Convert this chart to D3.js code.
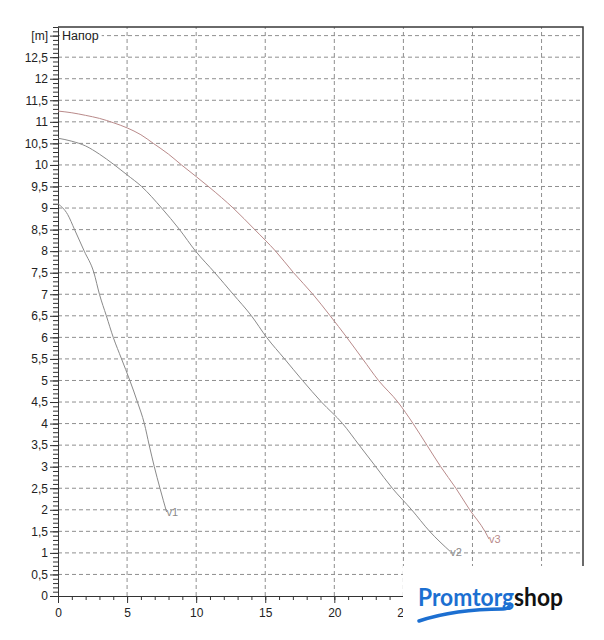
<!DOCTYPE html>
<html>
<head>
<meta charset="utf-8">
<script src="https://cdn.jsdelivr.net/npm/d3@7"></script>
<style>
  body { margin: 0; background: #fff; }
  svg { display: block; font-family: "Liberation Sans", Arial, sans-serif; }
</style>
</head>
<body>
<div id="chart"></div>
<script>
// pump curves, flow (x) vs head in metres (y)
var v1Flow = [0, 0.7, 1.2, 1.9, 2.6, 3.0, 3.5, 4.0, 4.6, 5.2, 5.75, 6.25, 6.6, 6.97, 7.38, 7.86];
var v1Head = [9.1, 8.85, 8.5, 8.0, 7.5, 7.0, 6.5, 6.0, 5.5, 5.0, 4.5, 4.0, 3.5, 3.0, 2.5, 1.95];

var v2Flow = [0, 1, 2, 3, 4, 5, 6.05, 7.5, 8.8, 9.96, 11.35, 12.68, 14.0, 15.1, 16.4, 17.7, 19.07, 20.6, 21.8, 23.0, 24.2, 25.6, 26.9, 28.4];
var v2Head = [10.62, 10.55, 10.44, 10.25, 10.02, 9.77, 9.5, 9.0, 8.5, 8.0, 7.5, 7.0, 6.5, 6.0, 5.5, 5.0, 4.5, 4.0, 3.5, 3.0, 2.5, 2.0, 1.5, 1.03];

var v3Flow = [0, 1, 2, 3, 4, 5, 6, 6.9, 8.0, 8.94, 10.0, 11.0, 12.68, 14.24, 15.75, 17.05, 18.45, 19.7, 20.9, 22.05, 23.2, 24.6, 25.7, 26.7, 27.7, 28.8, 29.8, 30.9, 31.2];
var v3Head = [11.25, 11.21, 11.15, 11.08, 10.98, 10.86, 10.7, 10.5, 10.25, 10.0, 9.73, 9.47, 9.0, 8.5, 8.0, 7.5, 7.0, 6.5, 6.0, 5.5, 5.0, 4.5, 4.0, 3.5, 3.0, 2.5, 2.0, 1.5, 1.32];

var curveNames = ["v1", "v2", "v3"];
var curveColors = ["#8a8a8a", "#8a8a8a", "#b98a8a"];

var xTicks = [0, 5, 10, 15, 20, 25, 30, 35];
var xLabelled = [0, 5, 10, 15, 20, 25]; // 30 and 35 sit under the logo box
var yTicks = d3.range(0, 13, 0.5);
var yTopLabel = "[m]";
var yTitle = "Напор";

var width = 604, height = 640;
var margin = {top: 27, right: 21, bottom: 44, left: 58};

var x = d3.scaleLinear().domain([0, 38]).range([margin.left, width - margin.right]);
var y = d3.scaleLinear().domain([0, 13.2]).range([height - margin.bottom, margin.top]);

var comma = d3.formatLocale({decimal: ",", thousands: " ", grouping: [3], currency: ["", ""]}).format("~g");

var svg = d3.select("#chart").append("svg")
    .attr("width", width)
    .attr("height", height);

// dashed grid
svg.append("g").selectAll("line")
  .data(yTicks.slice(1).concat([13]))
  .enter().append("line")
    .attr("x1", x(0)).attr("x2", x(38))
    .attr("y1", d => y(d)).attr("y2", d => y(d))
    .attr("stroke", "#8f8f8f")
    .attr("stroke-dasharray", "4,3");

svg.append("g").selectAll("line")
  .data(xTicks.slice(1))
  .enter().append("line")
    .attr("x1", d => x(d)).attr("x2", d => x(d))
    .attr("y1", y(0)).attr("y2", y(13.2))
    .attr("stroke", "#8f8f8f")
    .attr("stroke-dasharray", "4,3");

// frame (top and right)
svg.append("path")
  .attr("d", "M" + x(0) + "," + y(13.2) + "H" + x(38) + "V" + y(0))
  .attr("fill", "none")
  .attr("stroke", "#3a3a3a")
  .attr("stroke-width", 1.5);

// y axis: minor every 0.1, major every 0.5
svg.append("g")
  .attr("transform", "translate(" + x(0) + ",0)")
  .call(d3.axisLeft(y).tickValues(d3.range(0, 13.21, 0.1)).tickSize(5).tickSizeOuter(0).tickFormat(""))
  .call(g => g.select(".domain").attr("stroke", "#333"))
  .call(g => g.selectAll(".tick line").attr("stroke", "#333"));

var yAxis = svg.append("g")
  .attr("transform", "translate(" + x(0) + ",0)")
  .call(d3.axisLeft(y).tickValues(yTicks.concat([13])).tickSize(8).tickSizeOuter(0).tickPadding(2)
    .tickFormat(d => d === 13 ? yTopLabel : comma(d)));
yAxis.select(".domain").remove();
yAxis.selectAll(".tick line").attr("stroke", "#333");
yAxis.selectAll(".tick text").attr("font-size", 12).attr("fill", "#222")
  .attr("font-family", "Liberation Sans, Arial, sans-serif");

// x axis: minor every 1, major every 5
svg.append("g")
  .attr("transform", "translate(0," + y(0) + ")")
  .call(d3.axisBottom(x).tickValues(d3.range(0, 39, 1)).tickSize(4).tickSizeOuter(0).tickFormat(""))
  .call(g => g.select(".domain").attr("stroke", "#333"))
  .call(g => g.selectAll(".tick line").attr("stroke", "#333"));

var xAxis = svg.append("g")
  .attr("transform", "translate(0," + y(0) + ")")
  .call(d3.axisBottom(x).tickValues(xTicks).tickSize(7).tickSizeOuter(0).tickPadding(5)
    .tickFormat(d => xLabelled.indexOf(d) >= 0 ? d : ""));
xAxis.select(".domain").remove();
xAxis.selectAll(".tick line").attr("stroke", "#333");
xAxis.selectAll(".tick text").attr("font-size", 12).attr("fill", "#222")
  .attr("font-family", "Liberation Sans, Arial, sans-serif");

// title on the top grid line, with white behind it
var titleBg = svg.append("rect").attr("fill", "#fff");
var title = svg.append("text")
  .attr("x", x(0) + 4)
  .attr("y", y(13) + 4)
  .attr("font-size", 12.5)
  .attr("fill", "#222")
  .text(yTitle);
var bb = title.node().getBBox();
titleBg.attr("x", bb.x - 2).attr("y", bb.y).attr("width", bb.width + 5).attr("height", bb.height);

// curves
var allFlow = [v1Flow, v2Flow, v3Flow];
var allHead = [v1Head, v2Head, v3Head];
var line = d3.line().x(d => x(d[0])).y(d => y(d[1])).curve(d3.curveMonotoneX);

for (var i = 0; i < curveNames.length; i++) {
    var pts = d3.zip(allFlow[i], allHead[i]);
    svg.append("path")
      .datum(pts)
      .attr("d", line)
      .attr("fill", "none")
      .attr("stroke", curveColors[i])
      .attr("stroke-width", 1);
    var last = pts[pts.length - 1];
    svg.append("text")
      .attr("x", x(last[0]))
      .attr("y", y(last[1]) + 4)
      .attr("font-size", 11)
      .attr("fill", curveColors[i])
      .text(curveNames[i]);
}

// watermark logo box in the corner
var logo = svg.append("g");
logo.append("rect")
  .attr("x", 403).attr("y", 566).attr("width", 201).attr("height", 74)
  .attr("fill", "#fff");
var logoText = logo.append("text")
  .attr("x", 418).attr("y", 606)
  .attr("font-family", "Lato, 'Noto Sans', sans-serif")
  .attr("font-weight", 700)
  .attr("font-size", 24)
  .attr("textLength", 145)
  .attr("lengthAdjust", "spacingAndGlyphs");
logoText.append("tspan").attr("fill", "#1c6fd1").text("Promtorg");
logoText.append("tspan").attr("fill", "#111").text("shop");
logo.append("path")
  .attr("d", "M419,621 Q455,609 503,609 Q509,609 510,604")
  .attr("fill", "none")
  .attr("stroke", "#1c6fd1")
  .attr("stroke-width", 3.5)
  .attr("stroke-linecap", "round");
</script>
</body>
</html>
